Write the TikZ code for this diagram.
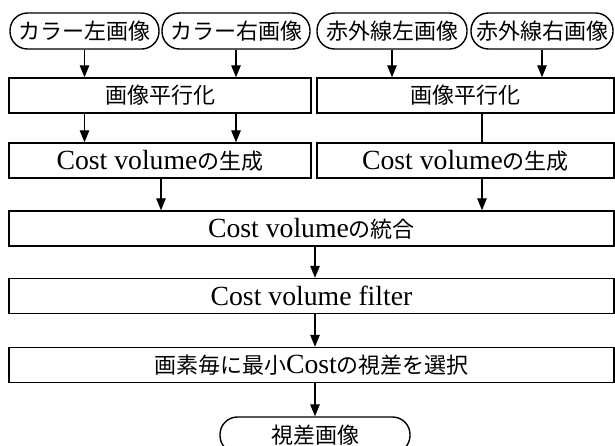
\documentclass[tikz,border=0pt]{standalone}
\usepackage{fontspec}
\setmainfont{Liberation Serif}[Scale=1.26]
\newfontfamily\jp{Noto Sans CJK JP}
\usetikzlibrary{arrows.meta}
\tikzset{
  boxbase/.style={draw, line width=1.4pt, inner sep=0pt, anchor=center,
    font=\fontsize{22}{26}\selectfont},
  procbox/.style={boxbase, rectangle, minimum height=35pt},
  termbox/.style={boxbase, rectangle, rounded corners=17.5pt, minimum height=36pt},
  flow/.style={line width=1.3pt, -{Triangle[length=12pt,width=9.5pt]}},
  link/.style={line width=1.3pt}
}
\begin{document}
\begin{tikzpicture}[x=1pt,y=-1pt]
\useasboundingbox (0,0) rectangle (615,445);
\clip (0,0) rectangle (615,445);

% input images
\node[termbox, minimum width=149pt] (p1) at (84.5,31) {\jp カラー左画像};
\node[termbox, minimum width=148pt] (p2) at (236,31) {\jp カラー右画像};
\node[termbox, minimum width=150pt] (p3) at (392,31) {\jp 赤外線左画像};
\node[termbox, minimum width=142pt] (p4) at (542,31) {\jp 赤外線右画像};

% rectification
\node[procbox, minimum width=302pt] (l1) at (160,95.5) {\jp 画像平行化};
\node[procbox, minimum width=297pt] (r1) at (465.5,95.5) {\jp 画像平行化};

% cost volume generation
\node[procbox, minimum width=302pt] (l2) at (160,160.5) {Cost volume{\jp の生成}};
\node[procbox, minimum width=297pt] (r2) at (465.5,160.5) {Cost volume{\jp の生成}};

% merged pipeline
\node[procbox, minimum width=605pt] (b3) at (311.5,228.5) {Cost volume{\jp の統合}};
\node[procbox, minimum width=605pt] (b4) at (311.5,296) {Cost volume filter};
\node[procbox, minimum width=605pt] (b5) at (311.5,365) {{\jp 画素毎に最小}Cost{\jp の視差を選択}};
\node[termbox, minimum width=190pt] (out) at (315,435) {\jp 視差画像};

\coordinate (lx) at (161,0);
\coordinate (rx) at (482,0);
\coordinate (mx) at (315,0);

% connectors
\draw[flow] (p1.south) -- (p1.south |- l1.north);
\draw[flow] (p2.south) -- (p2.south |- l1.north);
\draw[flow] (p3.south) -- (p3.south |- r1.north);
\draw[flow] (p4.south) -- (p4.south |- r1.north);
\draw[flow] (p1.south |- l1.south) -- (p1.south |- l2.north);
\draw[flow] (p2.south |- l1.south) -- (p2.south |- l2.north);
\draw[link] (rx |- r1.south) -- (rx |- r2.north);
\draw[flow] (lx |- l2.south) -- (lx |- b3.north);
\draw[flow] (rx |- r2.south) -- (rx |- b3.north);
\draw[flow] (mx |- b3.south) -- (mx |- b4.north);
\draw[flow] (mx |- b4.south) -- (mx |- b5.north);
\draw[flow] (mx |- b5.south) -- (out.north);
\end{tikzpicture}
\end{document}
